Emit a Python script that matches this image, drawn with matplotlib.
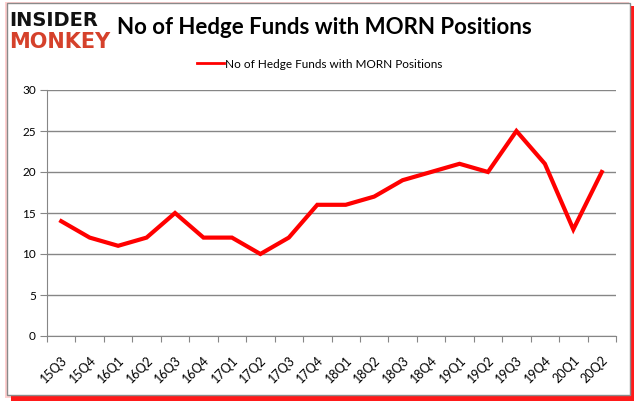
import numpy as np
import matplotlib.pyplot as plt
import matplotlib.transforms as mtransforms
from matplotlib.patches import Rectangle

quarters = ['15Q3', '15Q4', '16Q1', '16Q2', '16Q3', '16Q4', '17Q1', '17Q2', '17Q3', '17Q4',
            '18Q1', '18Q2', '18Q3', '18Q4', '19Q1', '19Q2', '19Q3', '19Q4', '20Q1', '20Q2']
funds = [14, 12, 11, 12, 15, 12, 12, 10, 12, 16,
         16, 17, 19, 20, 21, 20, 25, 21, 13, 20]
yticks = [0, 5, 10, 15, 20, 25, 30]

W, H = 637, 408
fig = plt.figure(figsize=(W / 100, H / 100), dpi=100)

# frame with red shadow like the original image
fig.patches.append(Rectangle((5 / W, 1 - 398 / H), 624 / W, 396 / H, transform=fig.transFigure,
                             facecolor='#ffd0d0', edgecolor='none', zorder=-4))
fig.patches.append(Rectangle((11 / W, 1 - 401 / H), 623 / W, 395 / H, transform=fig.transFigure,
                             facecolor='#ff1a1a', edgecolor='none', zorder=-3))
fig.patches.append(Rectangle((7 / W, 1 - 395 / H), 623 / W, 392 / H, transform=fig.transFigure,
                             facecolor='white', edgecolor='#8a8a8a', linewidth=1, zorder=-2))

ax = fig.add_axes([47 / W, 1 - 336 / H, 569 / W, 246 / H])
x = np.arange(len(quarters))
ax.plot(x, funds, color='#ff0000', linewidth=3, solid_joinstyle='miter',
        label='No of Hedge Funds with MORN Positions', zorder=3)

ax.set_xlim(-0.5, len(quarters) - 0.5)
ax.set_ylim(0, 30)
ax.set_yticks(yticks)
ax.yaxis.grid(True, color='#868686', linewidth=1)
ax.set_axisbelow(True)

ax.set_xticks(np.arange(-0.5, len(quarters), 1))
ax.set_xticklabels([])
ax.set_xticks(x, minor=True)
ax.set_xticklabels(quarters, minor=True, rotation=45, ha='right', va='top',
                   rotation_mode='anchor', fontsize=9, family='Lato')
shift = mtransforms.ScaledTranslation(3 / 100, 0, fig.dpi_scale_trans)
for lab in ax.get_xticklabels(minor=True):
    lab.set_transform(lab.get_transform() + shift)
ax.tick_params(axis='x', which='minor', length=0, pad=13)
ax.tick_params(axis='x', which='major', length=4, color='#868686', direction='out')
ax.tick_params(axis='y', length=5, color='#868686', direction='out', labelsize=8.5, pad=3)
for lab in ax.get_yticklabels():
    lab.set_family('Lato')

for s in ['top', 'right']:
    ax.spines[s].set_visible(False)
for s in ['left', 'bottom']:
    ax.spines[s].set_color('#868686')

fig.text(117 / W, 1 - 27 / H, 'No of Hedge Funds with MORN Positions', fontsize=16,
         fontweight='bold', family='Lato', va='center', ha='left')
fig.text(9 / W, 1 - 20 / H, 'INSIDER', fontsize=14, fontweight='heavy', family='DejaVu Sans',
         va='center', ha='left', color='#111111')
fig.text(9 / W, 1 - 42 / H, 'MONKEY', fontsize=15, fontweight='heavy', family='DejaVu Sans',
         va='center', ha='left', color='#d5412b')

leg = ax.legend(loc='center', bbox_to_anchor=(320 / W, 1 - 64 / H), bbox_transform=fig.transFigure,
                frameon=False, prop={'family': 'Lato', 'size': 8.5}, handlelength=2.3,
                handletextpad=0.1)
leg.get_lines()[0].set_linewidth(2)

fig.savefig('out.png', dpi=100)
